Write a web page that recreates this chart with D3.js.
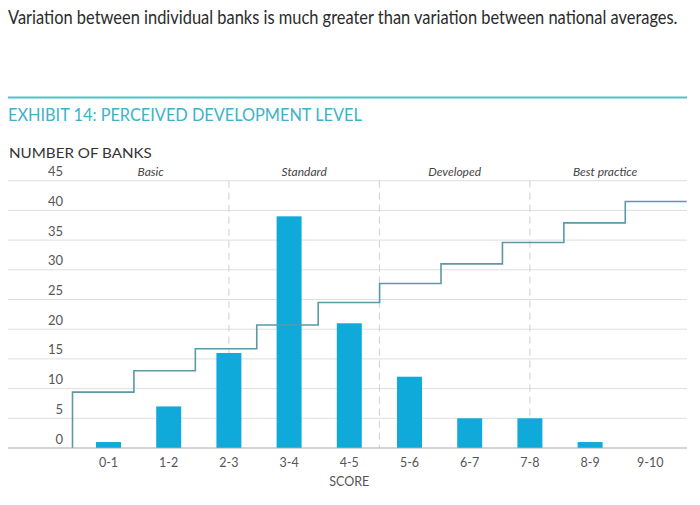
<!DOCTYPE html>
<html>
<head>
<meta charset="utf-8">
<script src="https://cdn.jsdelivr.net/npm/d3@7"></script>
<style>
  html, body { margin: 0; padding: 0; background: #fff; }
  svg { display: block; }
</style>
</head>
<body>
<svg id="chart" width="700" height="505"></svg>
<script>
// ---- data ----
const categories = ["0-1", "1-2", "2-3", "3-4", "4-5", "5-6", "6-7", "7-8", "8-9", "9-10"];
const bankCounts = [1, 7, 16, 39, 21, 12, 5, 5, 1, 0];
const stepValues = [9.4, 13, 16.7, 20.7, 24.5, 27.7, 31, 34.6, 37.9, 41.5];
const yTicks = [0, 5, 10, 15, 20, 25, 30, 35, 40, 45];
const zoneNames = ["Basic", "Standard", "Developed", "Best practice"];
const zoneBounds = [0, 2.5, 5, 7.5, 10];
const headline = "Variation between individual banks is much greater than variation between national averages.";
const exhibitTitle = "EXHIBIT 14: PERCEIVED DEVELOPMENT LEVEL";
const yAxisTitle = "NUMBER OF BANKS";
const xAxisTitle = "SCORE";

// ---- layout ----
const svg = d3.select("#chart");
const font = "Lato, 'Open Sans', sans-serif";
const gridLeft = 8, gridRight = 687;

const y = d3.scaleLinear().domain([0, 45]).range([448, 180.7]);
const xBand = d3.scaleBand().domain(categories).range([78.4, 680.4])
  .paddingInner(0.585).paddingOuter(0.2925);
const xScore = d3.scaleLinear().domain([0, 10]).range([78.4, 680.4]);
const xStep = d3.scaleLinear().domain([0, 10]).range([72.5, 686.7]);

// text fitted to a target width via horizontal scale transform
function fittedText(str, x, yPos, size, color, target) {
  const t = svg.append("text")
    .attr("x", 0).attr("y", 0)
    .attr("font-family", font).attr("font-size", size)
    .attr("fill", color)
    .text(str);
  const natural = t.node().getComputedTextLength();
  const sx = natural > 0 ? target / natural : 1;
  t.attr("transform", `translate(${x},${yPos}) scale(${sx},1)`);
  return t;
}

// headline
fittedText(headline, 8, 24, 18.5, "#2b2b2b", 670);

// teal rule
svg.append("line")
  .attr("x1", 8).attr("x2", 687).attr("y1", 97.5).attr("y2", 97.5)
  .attr("stroke", "#55bfd0").attr("stroke-width", 2);

// exhibit title
fittedText(exhibitTitle, 8, 120.5, 18, "#3db2c8", 354);

// y axis title
fittedText(yAxisTitle, 9, 157.5, 12.5, "#333", 143);

// gridlines
svg.append("g").selectAll("line")
  .data(yTicks.filter(d => d !== 0))
  .join("line")
  .attr("x1", gridLeft).attr("x2", gridRight)
  .attr("y1", d => y(d)).attr("y2", d => y(d))
  .attr("stroke", "#dedede").attr("stroke-width", 1);

// y tick labels
svg.append("g").selectAll("text")
  .data(yTicks)
  .join("text")
  .attr("x", 63).attr("y", d => y(d) - 4.5)
  .attr("text-anchor", "end")
  .attr("font-family", font).attr("font-size", 13)
  .attr("fill", "#555")
  .text(d => d);

// zone dashed dividers
svg.append("g").selectAll("line")
  .data(zoneBounds.slice(1, -1))
  .join("line")
  .attr("x1", d => xScore(d)).attr("x2", d => xScore(d))
  .attr("y1", y(45)).attr("y2", y(0))
  .attr("stroke", "#cfcfcf").attr("stroke-width", 1)
  .attr("stroke-dasharray", "7,5");

// zone labels
svg.append("g").selectAll("text")
  .data(zoneNames)
  .join("text")
  .attr("x", (d, i) => xScore((zoneBounds[i] + zoneBounds[i + 1]) / 2) - (i === 0 ? 3 : 0))
  .attr("y", 176)
  .attr("text-anchor", "middle")
  .attr("font-family", font).attr("font-size", 12).attr("font-style", "italic")
  .attr("fill", "#444")
  .text(d => d);

// bars
svg.append("g").selectAll("rect")
  .data(categories.map((c, i) => ({ c, v: bankCounts[i] })))
  .join("rect")
  .attr("x", d => xBand(d.c))
  .attr("width", xBand.bandwidth())
  .attr("y", d => y(d.v))
  .attr("height", d => y(0) - y(d.v))
  .attr("fill", "#0fa9da");

// step line
const stepPts = [[0, 0]].concat(stepValues.map((v, i) => [i, v]), [[10, stepValues[stepValues.length - 1]]]);
const stepLine = d3.line()
  .x(d => xStep(d[0]))
  .y(d => y(d[1]))
  .curve(d3.curveStepAfter);
svg.append("path")
  .datum(stepPts)
  .attr("d", stepLine)
  .attr("fill", "none")
  .attr("stroke", "#5c98a8")
  .attr("stroke-width", 1.6);

// baseline
svg.append("line")
  .attr("x1", gridLeft).attr("x2", gridRight)
  .attr("y1", y(0)).attr("y2", y(0))
  .attr("stroke", "#a9a9a9").attr("stroke-width", 1);

// x labels
svg.append("g").selectAll("text")
  .data(categories)
  .join("text")
  .attr("x", d => xBand(d) + xBand.bandwidth() / 2)
  .attr("y", 467)
  .attr("text-anchor", "middle")
  .attr("font-family", font).attr("font-size", 12.5)
  .attr("fill", "#555")
  .text(d => d);

// x axis title
svg.append("text")
  .attr("x", xBand("4-5") + xBand.bandwidth() / 2).attr("y", 486)
  .attr("text-anchor", "middle")
  .attr("font-family", font).attr("font-size", 12.5)
  .attr("fill", "#555")
  .text(xAxisTitle);
</script>
</body>
</html>
